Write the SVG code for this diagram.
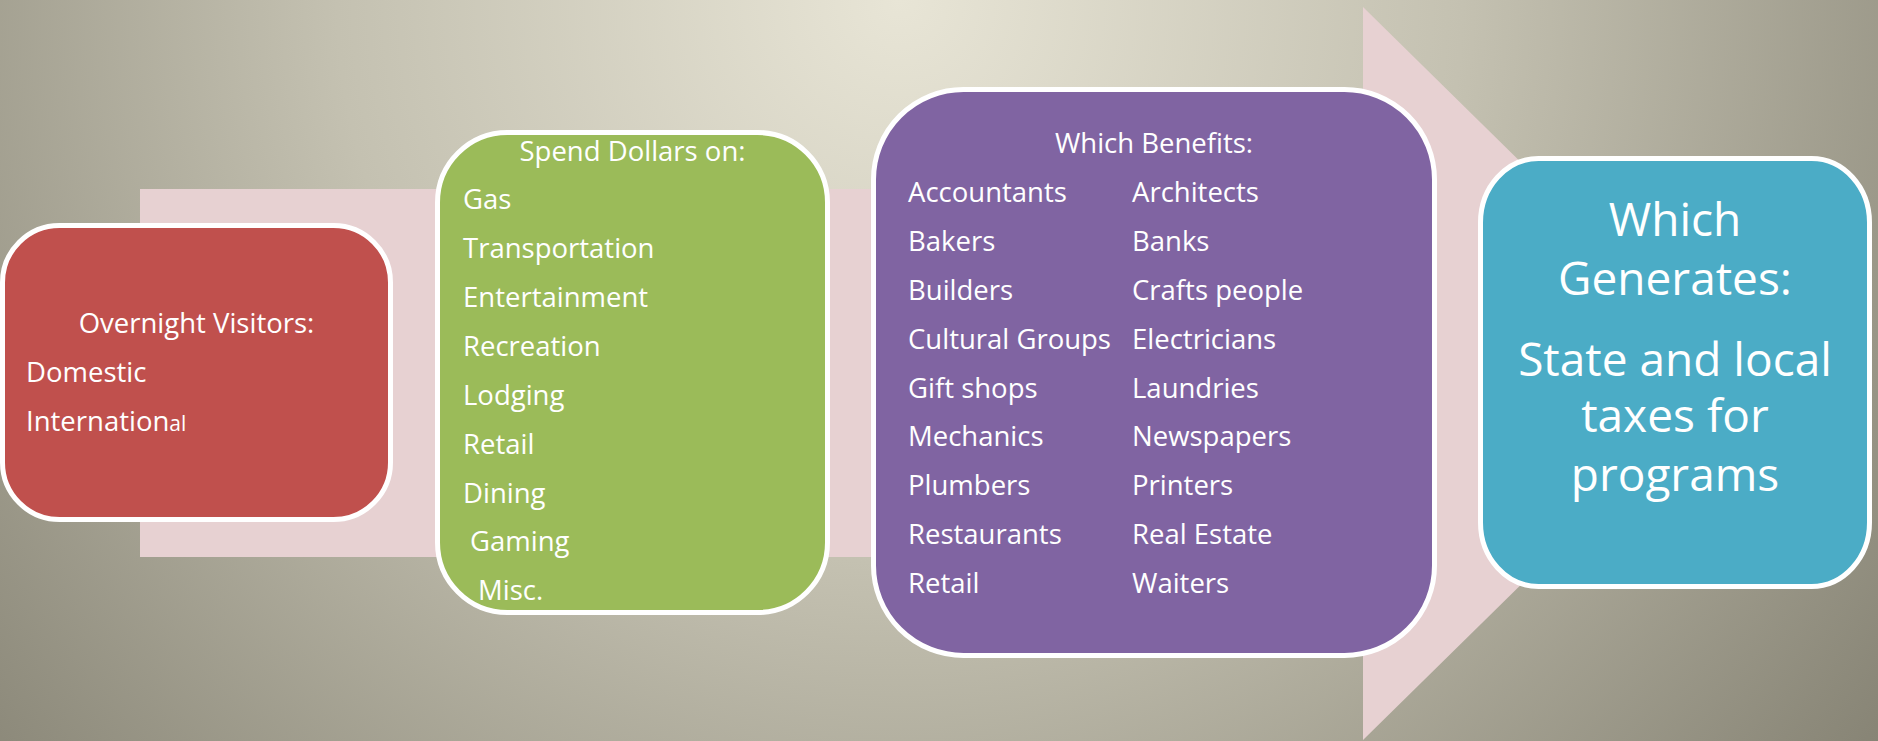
<svg xmlns="http://www.w3.org/2000/svg" width="1878" height="741" viewBox="0 0 1878 741">
  <defs>
    <radialGradient id="bg" gradientUnits="userSpaceOnUse" cx="900" cy="0" r="1250">
      <stop offset="0" stop-color="#e8e5d6"/>
      <stop offset="0.45" stop-color="#c4c1b1"/>
      <stop offset="1" stop-color="#858273"/>
    </radialGradient>
  </defs>
  <style>
    .box { stroke: #ffffff; stroke-width: 5; }
    .t { font-family: "Open Sans", "Noto Sans", sans-serif; fill: #ffffff; font-size: 27.5px; }
    .c { text-anchor: middle; }
    .big { font-size: 46px; }
  </style>

  <!-- backdrop -->
  <rect x="0" y="0" width="1878" height="741" fill="url(#bg)"/>

  <!-- flow arrow behind the stages -->
  <g id="connectors">
    <path d="M140,189 H1363 V7 L1736,373.5 L1363,740 V557 H140 Z" fill="#e7d1d2"/>
  </g>

  <!-- stage 1 -->
  <g id="visitors">
    <rect class="box" x="2.5" y="225.5" width="388" height="294" rx="57" ry="57" fill="#c0504d"/>
    <text class="t c" x="196.5" y="333">Overnight Visitors:</text>
    <text class="t" x="26" y="382">Domestic</text>
    <text class="t" x="26" y="431">Internation<tspan font-size="21">al</tspan></text>
  </g>

  <!-- stage 2 -->
  <g id="spending">
    <rect class="box" x="437.5" y="132.5" width="390" height="480" rx="70" ry="70" fill="#9bbb59"/>
    <text class="t c" x="632.5" y="161">Spend Dollars on:</text>
    <text class="t" x="463" y="209">Gas</text>
    <text class="t" x="463" y="258">Transportation</text>
    <text class="t" x="463" y="307">Entertainment</text>
    <text class="t" x="463" y="356">Recreation</text>
    <text class="t" x="463" y="405">Lodging</text>
    <text class="t" x="463" y="454">Retail</text>
    <text class="t" x="463" y="503">Dining</text>
    <text class="t" x="470" y="551">Gaming</text>
    <text class="t" x="478" y="600">Misc.</text>
  </g>

  <!-- stage 3 -->
  <g id="benefits">
    <rect class="box" x="873.5" y="89.5" width="561" height="566" rx="90" ry="90" fill="#8064a2"/>
    <text class="t c" x="1154" y="153">Which Benefits:</text>
    <g class="col1">
      <text class="t" x="908" y="202">Accountants</text>
      <text class="t" x="908" y="251">Bakers</text>
      <text class="t" x="908" y="300">Builders</text>
      <text class="t" x="908" y="349">Cultural Groups</text>
      <text class="t" x="908" y="398">Gift shops</text>
      <text class="t" x="908" y="446">Mechanics</text>
      <text class="t" x="908" y="495">Plumbers</text>
      <text class="t" x="908" y="544">Restaurants</text>
      <text class="t" x="908" y="593">Retail</text>
    </g>
    <g class="col2">
      <text class="t" x="1132" y="202">Architects</text>
      <text class="t" x="1132" y="251">Banks</text>
      <text class="t" x="1132" y="300">Crafts people</text>
      <text class="t" x="1132" y="349">Electricians</text>
      <text class="t" x="1132" y="398">Laundries</text>
      <text class="t" x="1132" y="446">Newspapers</text>
      <text class="t" x="1132" y="495">Printers</text>
      <text class="t" x="1132" y="544">Real Estate</text>
      <text class="t" x="1132" y="593">Waiters</text>
    </g>
  </g>

  <!-- stage 4 -->
  <g id="taxes">
    <rect class="box" x="1480.5" y="158.5" width="389" height="428" rx="58" ry="64" fill="#4bacc6"/>
    <text class="t c big" x="1675" y="236">Which</text>
    <text class="t c big" x="1675" y="295">Generates:</text>
    <text class="t c big" x="1675" y="376">State and local</text>
    <text class="t c big" x="1675" y="432">taxes for</text>
    <text class="t c big" x="1675" y="491">programs</text>
  </g>
</svg>
